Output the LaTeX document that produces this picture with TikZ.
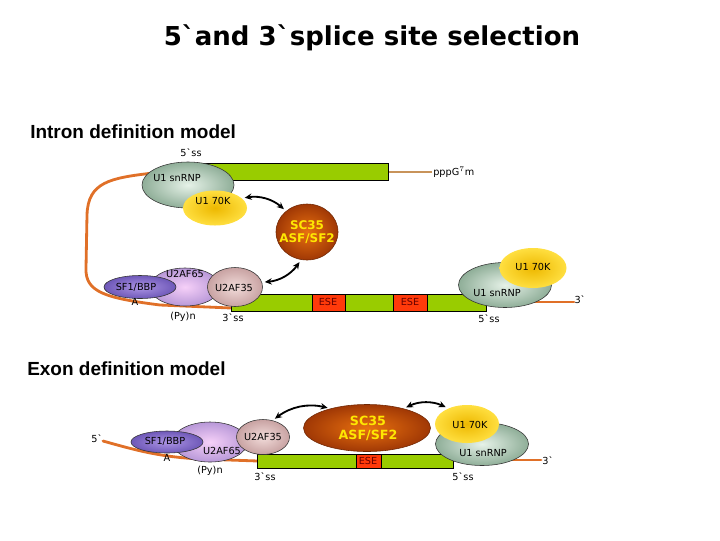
\documentclass[tikz,border=0pt]{standalone}
\usepackage{fontspec}
\setmainfont{DejaVu Sans}[Ligatures=TeXOff]
\newfontfamily\headfont{Liberation Sans}
\usepackage{xcolor}
\usetikzlibrary{arrows.meta,shapes.geometric}

\definecolor{leaf}{HTML}{99CC00}
\definecolor{esered}{HTML}{FF3A0A}
\definecolor{rnaorange}{HTML}{E07028}
\definecolor{captan}{HTML}{C8935A}
\definecolor{uonein}{HTML}{E6F2E8}
\definecolor{uoneout}{HTML}{8FAE98}
\definecolor{kin}{HTML}{EDB800}
\definecolor{kout}{HTML}{FFDF40}
\definecolor{scin}{HTML}{E8700F}
\definecolor{scout}{HTML}{A03805}
\definecolor{sixfivein}{HTML}{F6D0F8}
\definecolor{sixfiveout}{HTML}{B898D8}
\definecolor{sfin}{HTML}{AC94E4}
\definecolor{sfout}{HTML}{6E58B8}
\definecolor{threefivein}{HTML}{F2DCDA}
\definecolor{threefiveout}{HTML}{C8A2A2}

\begin{document}
\begin{tikzpicture}[x=0.025cm,y=-0.025cm,
	lab/.style={font=\fontsize{6.9}{8}\selectfont,inner sep=0pt},
	srlab/.style={font=\fontsize{8.5}{10}\selectfont\bfseries,text=yellow!90!orange,align=center,inner sep=0pt},
	prot/.style={ellipse,draw=black!80,line width=0.4pt,inner sep=0pt},
	uone/.style={prot,inner color=uonein,outer color=uoneout},
	seventyk/.style={ellipse,inner sep=0pt,inner color=kin,outer color=kout},
	srprot/.style={prot,draw=scout!70!black,inner color=scin,outer color=scout},
	sixtyfive/.style={prot,inner color=sixfivein,outer color=sixfiveout},
	bbp/.style={prot,inner color=sfin,outer color=sfout},
	thirtyfive/.style={prot,inner color=threefivein,outer color=threefiveout},
	exon/.style={fill=leaf,draw=black,line width=0.5pt},
	enhancer/.style={fill=esered,draw=black,line width=0.5pt},
	rna/.style={rnaorange,line width=2pt,line cap=round},
	link/.style={{Stealth[length=5pt,width=4.5pt]}-{Stealth[length=5pt,width=4.5pt]},line width=1.3pt,shorten <=2pt,shorten >=2pt}]

	\useasboundingbox (0,0) rectangle (720,540);

	\node (title) at (372,38) {\fontsize{18.5}{22}\selectfont\bfseries 5`and 3`splice site selection};

	% intron definition model
	\node[anchor=west,font=\headfont\fontsize{13.5}{16}\selectfont\bfseries,inner sep=0pt] (intron) at (30,132) {Intron definition model};

	\draw[rna] (153,173) .. controls (110,178) and (88,182) .. (87,215)
		-- (86,268) .. controls (85,292) and (105,298) .. (160,305) -- (231,308);
	\draw[captan,line width=1.6pt] (388,172) -- (432,172);
	\draw[rna] (530,302) -- (574,302);

	\draw[exon] (190,163) rectangle (388,180);
	\draw[exon] (231,294) rectangle (486,311);
	\draw[enhancer] (312,294) rectangle (345,311);
	\draw[enhancer] (393,294) rectangle (427,311);

	\node[uone,minimum width=2.3cm,minimum height=1.15cm] (uoneA) at (188,185) {};
	\node[seventyk,minimum width=1.6cm,minimum height=0.875cm] (kA) at (215,208) {};
	\node[srprot,minimum width=1.55cm,minimum height=1.4cm] (srA) at (307,232) {};
	\node[sixtyfive,minimum width=1.75cm,minimum height=0.95cm] (sixfiveA) at (185,287) {};
	\node[bbp,minimum width=1.8cm,minimum height=0.575cm] (bbpA) at (140,287) {};
	\node[thirtyfive,minimum width=1.375cm,minimum height=0.975cm] (threefiveA) at (235,287) {};
	\node[uone,minimum width=2.325cm,minimum height=1.125cm] (uoneB) at (505,285) {};
	\node[seventyk,minimum width=1.675cm,minimum height=1cm] (kB) at (533,268) {};

	\draw[link] (kA.20) to[bend left=25] (srA.135);
	\draw[link] (threefiveA.10) to[bend right=25] (srA.258);

	\node[lab] (fiveA) at (191,153) {5`ss};
	\node[lab,anchor=west] (cap) at (433,172) {pppG$^{7}$m};
	\node[lab] (uoneAlab) at (177,178) {U1 snRNP};
	\node[lab] (kAlab) at (213,201) {U1 70K};
	\node[srlab] (srAlab) at (307,232) {SC35\\[-1pt]ASF/SF2};
	\node[lab] (sixfiveAlab) at (185,274) {U2AF65};
	\node[lab] (bbpAlab) at (136,287) {SF1/BBP};
	\node[lab] (threefiveAlab) at (234,288) {U2AF35};
	\node[lab] (branchA) at (135,302) {A};
	\node[lab] (pyA) at (183,317) {(Py)n};
	\node[lab] (threessA) at (233,318) {3`ss};
	\node[lab,text=black!60!red] (eseA) at (328,302) {ESE};
	\node[lab,text=black!60!red] (eseB) at (410,302) {ESE};
	\node[lab] (kBlab) at (533,267) {U1 70K};
	\node[lab] (uoneBlab) at (497,293) {U1 snRNP};
	\node[lab] (threeendA) at (580,300) {3`};
	\node[lab] (fivessB) at (489,319) {5`ss};

	% exon definition model
	\node[anchor=west,font=\headfont\fontsize{13.5}{16}\selectfont\bfseries,inner sep=0pt] (exondef) at (27,369) {Exon definition model};

	\draw[rna] (103,441) .. controls (135,450) and (160,457) .. (200,459) -- (258,461);
	\draw[rna] (510,460) -- (541,460);

	\draw[exon] (257,454) rectangle (453,468);
	\draw[enhancer] (356,454) rectangle (381,468);

	\node[sixtyfive,minimum width=1.875cm,minimum height=1cm] (sixfiveB) at (210,442) {};
	\node[bbp,minimum width=1.8cm,minimum height=0.55cm] (bbpB) at (167,442) {};
	\node[thirtyfive,minimum width=1.325cm,minimum height=0.875cm] (threefiveB) at (263,437) {};
	\node[srprot,minimum width=3.175cm,minimum height=1.175cm] (srB) at (367,428) {};
	\node[uone,minimum width=2.325cm,minimum height=1.075cm] (uoneC) at (482,444) {};
	\node[seventyk,minimum width=1.6cm,minimum height=0.95cm] (kC) at (467,424) {};

	\draw[link] (threefiveB.60) to[bend left=25] (srB.152);
	\draw[link] (srB.28) to[bend left=25] (kC.140);

	\node[lab] (fiveend) at (97,439) {5`};
	\node[lab] (bbpBlab) at (165,441) {SF1/BBP};
	\node[lab] (sixfiveBlab) at (222,451) {U2AF65};
	\node[lab] (threefiveBlab) at (263,437) {U2AF35};
	\node[lab] (branchB) at (167,458) {A};
	\node[lab] (pyB) at (210,471) {(Py)n};
	\node[lab] (threessB) at (265,477) {3`ss};
	\node[srlab,font=\fontsize{9}{11}\selectfont\bfseries] (srBlab) at (368,428) {SC35\\[-1pt]ASF/SF2};
	\node[lab,text=black!60!red] (eseC) at (368,461) {ESE};
	\node[lab] (kClab) at (470,425) {U1 70K};
	\node[lab] (uoneClab) at (483,453) {U1 snRNP};
	\node[lab] (threeendB) at (548,461) {3`};
	\node[lab] (fivessC) at (463,477) {5`ss};
\end{tikzpicture}
\end{document}
